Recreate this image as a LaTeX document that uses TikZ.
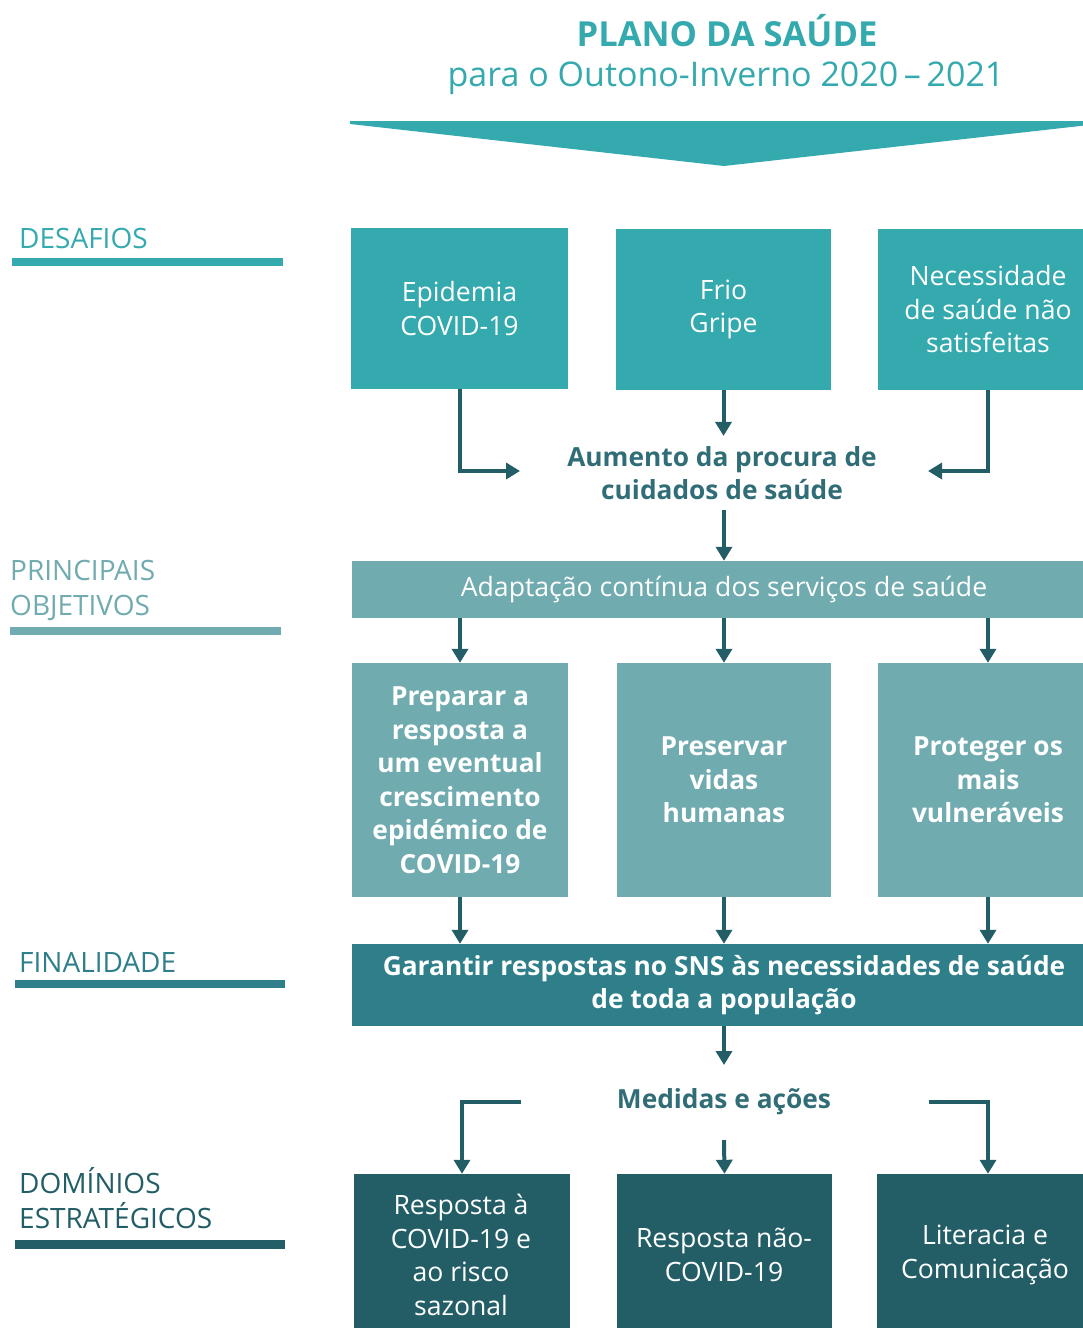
\documentclass[tikz,border=0pt]{standalone}
\usepackage{fontspec}
\setmainfont{Open Sans}
\usetikzlibrary{arrows.meta}
\definecolor{cA}{HTML}{34A9AE}
\definecolor{cB}{HTML}{70ABAF}
\definecolor{cC}{HTML}{2E7F8A}
\definecolor{cD}{HTML}{235E67}
\definecolor{cT}{HTML}{306D76}
\tikzset{
  box/.style={inner sep=0pt, align=center, text=white, font=\fontsize{26.6}{33.5}\selectfont},
  boldbox/.style={box, font=\fontsize{26.3}{33.5}\selectfont\bfseries},
  lbl/.style={anchor=west, inner sep=0pt, align=left, font=\fontsize{28}{35}\selectfont},
  arr/.style={draw=cD, line width=4pt, -{Triangle[width=16pt,length=14pt]}},
}
\begin{document}
\begin{tikzpicture}[x=1pt,y=-1pt]
\useasboundingbox (0,0) rectangle (1083,1328);
\clip (0,0) rectangle (1083,1328);
% title
\node[inner sep=0pt, text=cA, font=\fontsize{34.5}{40}\selectfont\bfseries] (t1) at (727,31) {PLANO DA SAÚDE};
\node[inner sep=0pt, text=cA, font=\fontsize{34}{40}\selectfont] (t2) at (726,78) {para o Outono-Inverno 2020\,–\,2021};
\fill[cA] (350,121) -- (1098,121) -- (1098,124) -- (724,166) -- (350,124) -- cycle;
% left labels
\node[lbl, text=cA] (l1) at (19,238) {DESAFIOS};
\fill[cA] (12,258) rectangle (283,266);
\node[lbl, text=cB] (l2) at (10,590) {PRINCIPAIS\\OBJETIVOS};
\fill[cB] (10,627) rectangle (281,635);
\node[lbl, text=cC] (l3) at (19,962) {FINALIDADE};
\fill[cC] (15,980) rectangle (285,988);
\node[lbl, text=cD] (l4) at (19,1198) {DOMÍNIOS\\ESTRATÉGICOS};
\fill[cD] (15,1240) rectangle (285,1249);
% desafios
\node[box, fill=cA, minimum width=217pt, minimum height=161pt] (d1) at (459.5,308.5) {Epidemia\\COVID-19};
\node[box, fill=cA, minimum width=215pt, minimum height=161pt] (d2) at (723.5,309.5) {Frio\\Gripe};
\node[box, fill=cA, minimum width=220pt, minimum height=161pt] (d3) at (988,309.5) {Necessidade\\de saúde não\\satisfeitas};
\node[inner sep=10pt, align=center, text=cT, font=\fontsize{26.3}{33.5}\selectfont\bfseries] (aum) at (722,473) {Aumento da procura de\\cuidados de saúde};
\coordinate (aL) at (520,471);
\coordinate (aR) at (928,471);
\draw[arr] (d1.south) |- (aL);
\draw[arr] (d3.south) |- (aR);
\draw[arr] (d2.south) -- (d2.south |- aum.north);
% objetivos
\node[box, fill=cB, minimum width=744pt, minimum height=57pt] (bar) at (724,589.5) {Adaptação contínua dos serviços de saúde};
\draw[arr] (aum.south -| bar.north) -- (bar.north);
\node[boldbox, fill=cB, minimum width=216pt, minimum height=234pt] (o1) at (460,780) {Preparar a\\resposta a\\um eventual\\crescimento\\epidémico de\\COVID-19};
\node[boldbox, fill=cB, minimum width=214pt, minimum height=234pt] (o2) at (724,780) {Preservar\\vidas\\humanas};
\node[boldbox, fill=cB, minimum width=220pt, minimum height=234pt] (o3) at (988,780) {Proteger os\\mais\\vulneráveis};
\draw[arr] (bar.south -| o1.north) -- (o1.north);
\draw[arr] (bar.south -| o2.north) -- (o2.north);
\draw[arr] (bar.south -| o3.north) -- (o3.north);
% finalidade
\node[boldbox, fill=cC, minimum width=744pt, minimum height=82pt] (fin) at (724,985) {Garantir respostas no SNS às necessidades de saúde\\de toda a população};
\draw[arr] (o1.south) -- (o1.south |- fin.north);
\draw[arr] (o2.south) -- (o2.south |- fin.north);
\draw[arr] (o3.south) -- (o3.south |- fin.north);
% medidas
\node[inner sep=0pt, text=cT, font=\fontsize{26.3}{33.5}\selectfont\bfseries] (med) at (724,1102) {Medidas e ações};
\coordinate (m0) at (724,1065);
\coordinate (m1) at (724,1140);
\coordinate (mL) at (521,1102);
\coordinate (mR) at (929,1102);
\draw[arr] (fin.south) -- (m0);
% dominios
\node[box, fill=cD, minimum width=216pt, minimum height=154pt] (s1) at (462,1251) {};
\node[box, fill=cD, minimum width=215pt, minimum height=154pt] (s2) at (724.5,1251) {};
\node[box, fill=cD, minimum width=222pt, minimum height=154pt] (s3) at (988,1251) {};
\node[box] (s1t) at (461,1255) {Resposta à\\COVID-19 e\\ao risco\\sazonal};
\node[box] (s2t) at (724,1255) {Resposta não-\\COVID-19};
\node[box] (s3t) at (985,1255) {Literacia e\\Comunicação};
\draw[arr] (m1) -- (s2.north);
\draw[arr] (mL) -| (s1.north);
\draw[arr] (mR) -| (s3.north);
\end{tikzpicture}
\end{document}
